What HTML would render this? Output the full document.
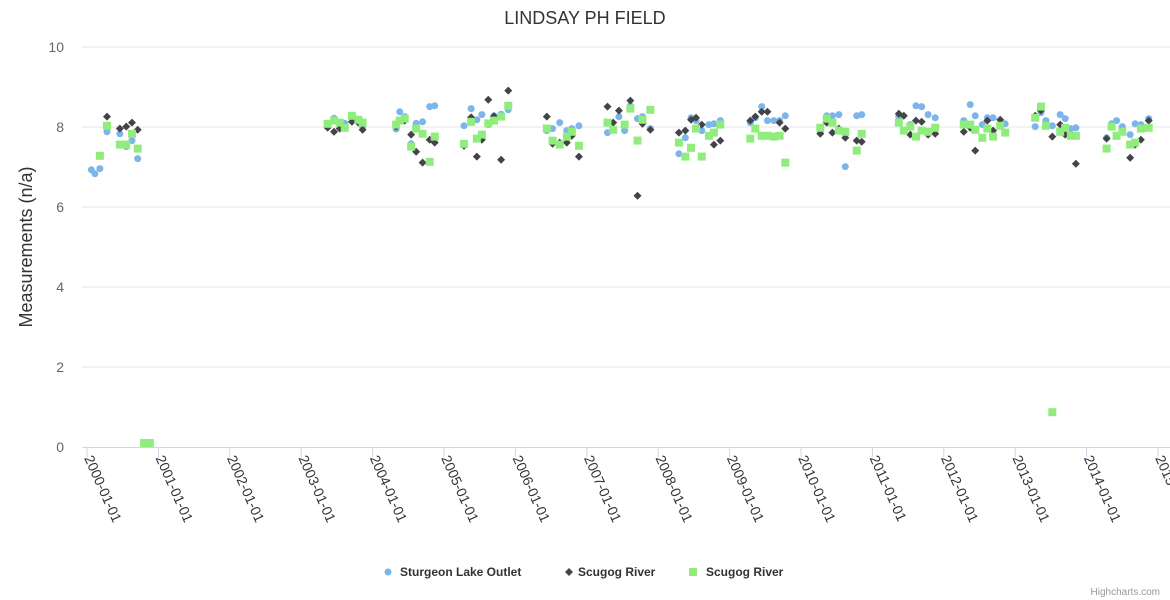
<!DOCTYPE html>
<html><head><meta charset="utf-8">
<style>
body{margin:0;background:#fff;}
svg{display:block;font-family:"Liberation Sans",sans-serif;}
</style></head>
<body>
<svg id="chart" width="1170" height="600" viewBox="0 0 1170 600" xmlns="http://www.w3.org/2000/svg">
<rect width="1170" height="600" fill="#fff"/>
<text x="585" y="24" text-anchor="middle" font-size="18" fill="#333">LINDSAY PH FIELD</text>
<text transform="translate(32,247) rotate(-90)" text-anchor="middle" font-size="18" fill="#333">Measurements (n/a)</text>
<g id="grid"></g><g id="xaxis"></g><g id="marks"></g>
<g font-size="12" font-weight="bold" fill="#333">
<g><circle cx="388" cy="572" r="3.5" fill="#7cb5ec"/><text x="400" y="576">Sturgeon Lake Outlet</text></g>
<g><path d="M569 568 L573 572 L569 576 L565 572 Z" fill="#434348"/><text x="578" y="576">Scugog River</text></g>
<g><rect x="689" y="568" width="8" height="8" fill="#90ed7d"/><text x="706" y="576">Scugog River</text></g>
</g>
<text x="1160" y="595" text-anchor="end" font-size="10" fill="#999">Highcharts.com</text>
</svg>
<script>
const yTicks=[0,2,4,6,8,10];
const xTickYears=[2000,2001,2002,2003,2004,2005,2006,2007,2008,2009,2010,2011,2012,2013,2014,2015];
const blueX=[2000.06,2000.11,2000.18,2000.28,2000.46,2000.55,2000.63,2000.71,2003.46,2003.61,2003.86,2004.38,2004.45,2004.33,2004.61,2004.70,2004.54,2004.80,2004.87,2005.28,2005.38,2005.46,2005.53,2005.62,2005.70,2005.80,2005.90,2006.44,2006.52,2006.62,2006.72,2006.79,2006.89,2007.29,2007.45,2007.53,2007.61,2007.71,2007.78,2007.89,2008.29,2008.38,2008.46,2008.53,2008.61,2008.71,2008.78,2008.87,2009.29,2009.36,2009.45,2009.53,2009.62,2009.70,2009.78,2010.27,2010.36,2010.44,2010.53,2010.62,2010.78,2010.85,2011.37,2011.53,2011.61,2011.69,2011.78,2011.88,2012.28,2012.37,2012.44,2012.54,2012.61,2012.69,2012.86,2013.28,2013.36,2013.43,2013.52,2013.63,2013.70,2013.78,2013.85,2014.28,2014.35,2014.42,2014.50,2014.61,2014.68,2014.76,2014.87];
const blueY=[6.93,6.83,6.96,7.88,7.83,7.51,7.66,7.21,8.22,8.09,8.02,8.38,8.26,7.95,8.09,8.13,7.58,8.51,8.53,8.03,8.46,8.18,8.31,8.06,8.28,8.32,8.43,7.91,7.96,8.11,7.91,7.96,8.03,7.86,8.26,7.91,8.53,8.21,8.26,7.96,7.33,7.73,8.23,8.16,7.91,8.06,8.08,8.16,8.11,8.23,8.51,8.16,8.16,8.16,8.28,7.88,8.28,8.28,8.31,7.01,8.28,8.31,8.26,8.06,8.53,8.51,8.31,8.23,8.16,8.56,8.28,8.06,8.23,8.23,8.08,8.01,8.36,8.16,8.03,8.31,8.21,7.96,7.98,7.73,8.08,8.16,8.01,7.81,8.08,8.06,8.21];
const blackX=[2000.28,2000.46,2000.55,2000.63,2000.71,2003.37,2003.46,2003.54,2003.71,2003.80,2003.86,2004.33,2004.45,2004.54,2004.61,2004.70,2004.80,2004.87,2005.28,2005.38,2005.46,2005.53,2005.62,2005.70,2005.80,2005.90,2006.44,2006.52,2006.62,2006.72,2006.79,2006.89,2007.29,2007.37,2007.45,2007.61,2007.71,2007.78,2007.89,2008.29,2008.38,2008.46,2008.53,2008.61,2008.78,2008.87,2009.29,2009.36,2009.45,2009.53,2009.70,2009.78,2010.27,2010.36,2010.44,2010.53,2010.62,2010.78,2010.85,2011.37,2011.44,2011.53,2011.61,2011.69,2011.78,2011.88,2012.28,2012.37,2012.44,2012.61,2012.69,2012.79,2013.28,2013.36,2013.52,2013.63,2013.70,2013.85,2014.28,2014.61,2014.68,2014.76,2014.87];
const blackY=[8.26,7.96,8.01,8.11,7.93,7.98,7.88,7.96,8.13,8.11,7.93,8.01,8.16,7.81,7.38,7.11,7.68,7.61,7.53,8.24,7.26,7.68,8.68,8.27,7.18,8.91,8.26,7.58,7.61,7.61,7.78,7.26,8.51,8.11,8.41,8.66,6.28,8.08,7.93,7.86,7.91,8.18,8.23,8.06,7.56,7.66,8.16,8.26,8.38,8.38,8.11,7.96,7.83,8.11,7.86,7.96,7.73,7.66,7.63,8.33,8.28,7.81,8.16,8.13,7.81,7.83,7.88,7.98,7.41,8.16,7.91,8.18,8.28,8.41,7.76,8.06,7.81,7.08,7.71,7.23,7.56,7.68,8.16];
const greenX=[2000.18,2000.28,2000.46,2000.55,2000.63,2000.71,2000.80,2000.88,2003.37,2003.46,2003.54,2003.61,2003.71,2003.80,2003.86,2004.33,2004.38,2004.45,2004.54,2004.61,2004.70,2004.80,2004.87,2005.28,2005.38,2005.46,2005.53,2005.62,2005.70,2005.80,2005.90,2006.44,2006.52,2006.62,2006.72,2006.79,2006.89,2007.29,2007.37,2007.53,2007.61,2007.71,2007.78,2007.89,2008.29,2008.38,2008.46,2008.53,2008.61,2008.71,2008.78,2008.87,2009.29,2009.36,2009.45,2009.53,2009.62,2009.70,2009.78,2010.27,2010.36,2010.44,2010.53,2010.62,2010.78,2010.85,2011.37,2011.44,2011.53,2011.61,2011.69,2011.78,2011.88,2012.28,2012.37,2012.44,2012.54,2012.61,2012.69,2012.79,2012.86,2013.28,2013.36,2013.43,2013.52,2013.63,2013.70,2013.78,2013.85,2014.28,2014.35,2014.42,2014.50,2014.61,2014.68,2014.76,2014.87];
const greenY=[7.28,8.03,7.56,7.56,7.83,7.46,0.1,0.1,8.08,8.16,8.11,7.98,8.28,8.18,8.11,8.06,8.16,8.21,7.51,7.96,7.83,7.13,7.76,7.58,8.13,7.71,7.81,8.09,8.16,8.26,8.53,7.96,7.66,7.56,7.76,7.88,7.53,8.11,7.93,8.06,8.46,7.66,8.18,8.43,7.61,7.26,7.48,7.96,7.26,7.78,7.86,8.06,7.71,7.96,7.78,7.78,7.76,7.78,7.11,7.98,8.21,8.11,7.91,7.88,7.41,7.83,8.11,7.91,8.01,7.76,7.91,7.88,7.98,8.06,8.06,7.93,7.73,7.96,7.76,8.03,7.86,8.23,8.51,8.03,0.87,7.88,7.98,7.78,7.78,7.46,8.01,7.78,7.88,7.56,7.61,7.96,7.98];

const NS='http://www.w3.org/2000/svg';
const X0=87,PXY=71.4,Y0=447,PXV=40;
function xs(t){return X0+(t-2000)*PXY;}
function ys(v){return Y0-v*PXV;}
function mk(tag,attrs,parent){const e=document.createElementNS(NS,tag);for(const k in attrs)e.setAttribute(k,attrs[k]);parent.appendChild(e);return e;}
const grid=document.getElementById('grid'),xa=document.getElementById('xaxis'),marks=document.getElementById('marks');
yTicks.forEach(v=>{
  if(v>0){const l=mk('line',{x1:82,x2:1170,y1:ys(v),y2:ys(v),stroke:'#e6e6e6'},grid);
  
  }
  const t=mk('text',{x:64,y:ys(v)+5,'text-anchor':'end','font-size':14,fill:'#666'},grid);
  t.textContent=v;
  
  
});
const axl=mk('line',{x1:82,x2:1170,y1:Y0+0.5,y2:Y0+0.5,stroke:'#ccd6eb'},xa);


xTickYears.forEach(yr=>{
  const x=xs(yr);
  const tk=mk('line',{x1:x,x2:x,y1:Y0,y2:Y0+10,stroke:'#ccd6eb'},xa);
  
  
  const t=mk('text',{transform:'translate('+(x-3)+','+(Y0+11)+') rotate(66)','font-size':14,fill:'#333'},xa);
  t.textContent=yr+'-01-01';
  
  
});
blueX.forEach((t,i)=>{
  const c=mk('circle',{cx:xs(t),cy:ys(blueY[i]),r:3.5,fill:'#7cb5ec'},marks);
  
  
});
blackX.forEach((t,i)=>{
  const x=xs(t),y=ys(blackY[i]);
  const p=mk('path',{d:'M'+x+' '+(y-4)+'L'+(x+4)+' '+y+'L'+x+' '+(y+4)+'L'+(x-4)+' '+y+'Z',fill:'#434348'},marks);
  
  
});
greenX.forEach((t,i)=>{
  const r=mk('rect',{x:xs(t)-4,y:ys(greenY[i])-4,width:8,height:8,fill:'#90ed7d'},marks);
  
  
});
</script>
</body></html>
